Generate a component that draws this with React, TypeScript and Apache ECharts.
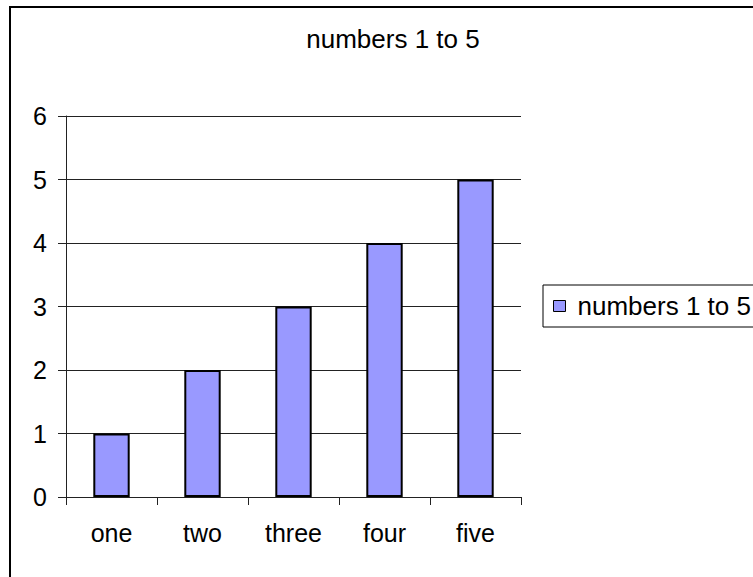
import React, { useEffect, useRef } from "react";
import * as echarts from "echarts";

const categories = ["one", "two", "three", "four", "five"];
const values = [1, 2, 3, 4, 5];
const seriesName = "numbers 1 to 5";
const titleText = "numbers 1 to 5";

const FONT = "'Liberation Sans', Arial, sans-serif";

export default function App() {
  const ref = useRef<HTMLDivElement>(null);
  useEffect(() => {
    document.body.style.margin = "0";
    const chart = echarts.init(ref.current!, null, { renderer: "svg" });
    chart.setOption({
      animation: false,
      backgroundColor: "#fff",
      title: {
        text: titleText,
        left: 388,
        top: 21,
        textAlign: "center",
        textStyle: { fontFamily: FONT, fontSize: 26, fontWeight: "normal", color: "#000", lineHeight: 26 },
      },
      legend: {
        left: 543,
        top: 285,
        orient: "vertical",
        padding: [8, 40, 8, 10],
        borderColor: "#000",
        borderWidth: 1,
        itemWidth: 12,
        itemHeight: 11,
        icon: "rect",
        itemStyle: { borderColor: "#000", borderWidth: 1 },
        textStyle: { fontFamily: FONT, fontSize: 26, color: "#000", lineHeight: 26, padding: [0, 0, 0, 7] },
        data: [seriesName],
      },
      grid: { left: 66, top: 116, width: 455, height: 381, containLabel: false },
      xAxis: {
        type: "category",
        data: categories,
        axisLine: { show: true, lineStyle: { color: "#222", width: 1 } },
        axisTick: { show: true, length: 8, lineStyle: { color: "#222" } },
        axisLabel: { fontFamily: FONT, fontSize: 25, color: "#000", margin: 23, interval: 0 },
        splitLine: { show: false },
      },
      yAxis: {
        type: "value",
        min: 0,
        max: 6,
        interval: 1,
        axisLine: { show: true, lineStyle: { color: "#222", width: 1 } },
        axisTick: { show: true, length: 8, lineStyle: { color: "#222" } },
        axisLabel: { fontFamily: FONT, fontSize: 25, color: "#000", margin: 19 },
        splitLine: { show: true, lineStyle: { color: "#222", width: 1 } },
      },
      series: [
        {
          name: seriesName,
          type: "bar",
          data: values,
          barWidth: "40%",
          itemStyle: { color: "#9999FF", borderColor: "#000", borderWidth: 2 },
        },
      ],
      graphic: [
        {
          type: "rect",
          shape: { x: 10, y: 7, width: 800, height: 620 },
          style: { fill: "none", stroke: "#000", lineWidth: 2 },
          silent: true,
          z: 100,
        },
      ],
    });
    return () => chart.dispose();
  }, []);
  return <div ref={ref} style={{ width: 753, height: 577 }} />;
}
